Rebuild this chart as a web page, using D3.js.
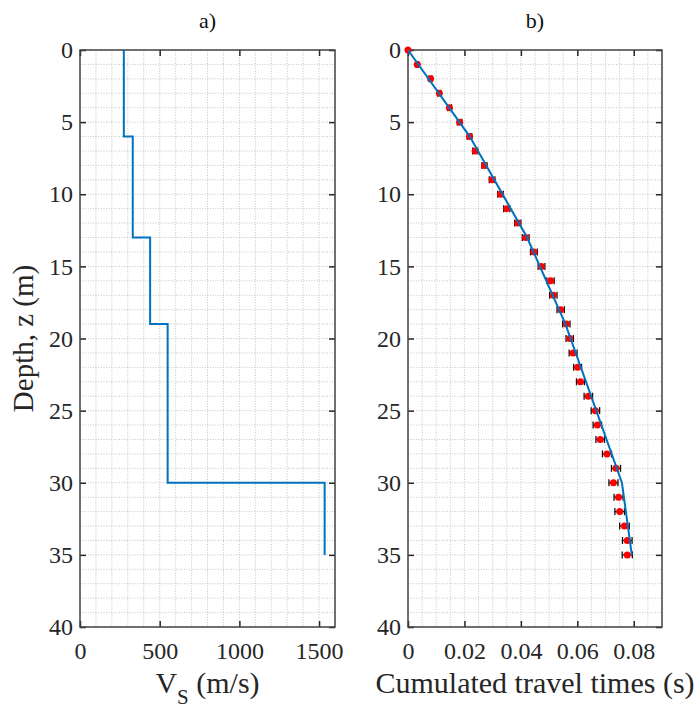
<!DOCTYPE html>
<html><head><meta charset="utf-8">
<script src="https://cdn.jsdelivr.net/npm/d3@7"></script>
<style>body{margin:0;background:#fff}svg{display:block}</style>
</head><body>
<script>
// ---- Data ----
const layerTop = [0, 6, 13, 19, 30];
const layerBottom = [6, 13, 19, 30, 35];
const vsValues = [275, 331, 440, 550, 1535];

const modelDepth = [0, 6, 13, 19, 30, 35];
const modelTime = [0, 0.0219, 0.0422, 0.0558, 0.0758, 0.0793];

const obsDepth = [0,1,2,3,4,5,6,7,8,9,10,11,12,13,14,15,16,17,18,19,20,21,22,23,24,25,26,27,28,29,30,31,32,33,34,35];
const obsTime = [0,0.0033,0.0080,0.0111,0.0147,0.0183,0.0218,0.0238,0.0271,0.0298,0.0328,0.0350,0.0389,0.0417,0.0446,0.0473,0.0505,0.0515,0.0541,0.0561,0.0573,0.0585,0.0601,0.0611,0.0639,0.0664,0.0671,0.0681,0.0705,0.0737,0.0728,0.0746,0.0750,0.0767,0.0777,0.0777];
const obsErr = [0,0.0004,0.0005,0.0006,0.0007,0.0008,0.0008,0.0009,0.0009,0.0010,0.0010,0.0011,0.0011,0.0012,0.0012,0.0012,0.0013,0.0013,0.0013,0.0013,0.0013,0.0014,0.0014,0.0014,0.0015,0.0015,0.0015,0.0015,0.0016,0.0016,0.0016,0.0016,0.0017,0.0017,0.0017,0.0018];

const depthTicks = [0,5,10,15,20,25,30,35,40];
const vsTicks = [0,500,1000,1500];
const timeTicks = [0,0.02,0.04,0.06,0.08];
const timeTickLabels = ["0","0.02","0.04","0.06","0.08"];

// ---- Layout ----
const W = 695, H = 709;
const pTop = 50, pBottom = 627;
const aLeft = 80, aRight = 335;
const bLeft = 408, bRight = 662;
const font = "Liberation Serif, Times New Roman, serif";
const axisColor = "#262626";
const blue = "#0072BD";

const svg = d3.select("body").append("svg").attr("width", W).attr("height", H)
  .attr("font-family", font);

const y = d3.scaleLinear().domain([0, 40]).range([pTop, pBottom]);
const xA = d3.scaleLinear().domain([0, 1600]).range([aLeft, aRight]);
const xB = d3.scaleLinear().domain([0, 0.09]).range([bLeft, bRight]);

function panel(x, xTicks, xFmt, minorX, title, xLabelFn) {
  const g = svg.append("g");
  const [x0, x1] = x.range();
  const grid = g.append("g").attr("stroke", "#b4b4b4").attr("stroke-width", 0.8)
    .attr("stroke-dasharray", "1,1.6");
  grid.selectAll(".gx").data(minorX).join("line")
    .attr("x1", d => x(d)).attr("x2", d => x(d)).attr("y1", pTop).attr("y2", pBottom);
  grid.selectAll(".gy").data(d3.range(1, 40, 1)).join("line")
    .attr("x1", x0).attr("x2", x1).attr("y1", d => y(d)).attr("y2", d => y(d));

  const axB = g.append("g").attr("transform", `translate(0,${pBottom})`)
    .call(d3.axisBottom(x).tickValues(xTicks).tickFormat(xFmt).tickSize(-6).tickPadding(15));
  const axT = g.append("g").attr("transform", `translate(0,${pTop})`)
    .call(d3.axisTop(x).tickValues(xTicks).tickFormat("").tickSize(-6));
  const axL = g.append("g").attr("transform", `translate(${x0},0)`)
    .call(d3.axisLeft(y).tickValues(depthTicks).tickSize(-6).tickPadding(7));
  const axR = g.append("g").attr("transform", `translate(${x1},0)`)
    .call(d3.axisRight(y).tickValues(depthTicks).tickFormat("").tickSize(-6));
  [axB, axT, axL, axR].forEach(a => {
    a.attr("font-family", font).attr("font-size", 24);
    a.select(".domain").remove();
    a.selectAll("line").attr("stroke", axisColor).attr("stroke-width", 1.5);
    a.selectAll("text").attr("fill", axisColor).attr("font-family", font).attr("font-size", 24);
  });
  g.append("rect").attr("x", x0).attr("y", pTop).attr("width", x1 - x0).attr("height", pBottom - pTop)
    .attr("fill", "none").attr("stroke", "#404040").attr("stroke-width", 1.5);

  g.append("text").attr("x", (x0 + x1) / 2).attr("y", 28).attr("text-anchor", "middle")
    .attr("font-size", 22).attr("fill", "#111").text(title);
  xLabelFn(g, (x0 + x1) / 2);
  return g;
}

// Panel a
const gA = panel(xA, vsTicks, d3.format("d"), d3.range(100, 1600, 100), "a)", (g, cx) => {
  const t = g.append("text").attr("x", cx).attr("y", 693).attr("text-anchor", "middle")
    .attr("font-size", 30).attr("fill", "#262626");
  t.append("tspan").text("V");
  t.append("tspan").attr("dy", 11).attr("font-size", 21).text("S");
  t.append("tspan").attr("dy", -11).text(" (m/s)");
});
const vsPts = [];
layerTop.forEach((d, i) => { vsPts.push([vsValues[i], layerTop[i]]); vsPts.push([vsValues[i], layerBottom[i]]); });
gA.append("path").datum(vsPts)
  .attr("d", d3.line().x(d => xA(d[0])).y(d => y(d[1])))
  .attr("fill", "none").attr("stroke", blue).attr("stroke-width", 2);

svg.append("text").attr("transform", `translate(33,${(pTop + pBottom) / 2}) rotate(-90)`)
  .attr("text-anchor", "middle").attr("font-size", 29)
  .attr("fill", "#262626").text("Depth, z (m)");

// Panel b
const gB = panel(xB, timeTicks, (d, i) => timeTickLabels[i], d3.range(1, 18).map(k => k * 0.005), "b)", (g, cx) => {
  g.append("text").attr("x", cx).attr("y", 693).attr("text-anchor", "middle")
    .attr("font-size", 30).attr("fill", "#262626")
    .text("Cumulated travel times (s)");
});
const obs = obsDepth.map((d, i) => ({ z: d, t: obsTime[i], e: obsErr[i] }));
const eb = gB.append("g").attr("stroke", "#111").attr("stroke-width", 1.3);
eb.selectAll(".h").data(obs).join("line")
  .attr("x1", d => xB(d.t - d.e)).attr("x2", d => xB(d.t + d.e))
  .attr("y1", d => y(d.z)).attr("y2", d => y(d.z));
eb.selectAll(".cl").data(obs.filter(d => d.e > 0)).join("line")
  .attr("x1", d => xB(d.t - d.e)).attr("x2", d => xB(d.t - d.e))
  .attr("y1", d => y(d.z) - 3.5).attr("y2", d => y(d.z) + 3.5);
eb.selectAll(".cr").data(obs.filter(d => d.e > 0)).join("line")
  .attr("x1", d => xB(d.t + d.e)).attr("x2", d => xB(d.t + d.e))
  .attr("y1", d => y(d.z) - 3.5).attr("y2", d => y(d.z) + 3.5);
gB.append("g").selectAll("circle").data(obs).join("circle")
  .attr("cx", d => xB(d.t)).attr("cy", d => y(d.z)).attr("r", 3.5).attr("fill", "#ff0000");
gB.append("path").datum(modelDepth.map((d, i) => [modelTime[i], d]))
  .attr("d", d3.line().x(d => xB(d[0])).y(d => y(d[1])))
  .attr("fill", "none").attr("stroke", blue).attr("stroke-width", 2);
</script>
</body></html>
